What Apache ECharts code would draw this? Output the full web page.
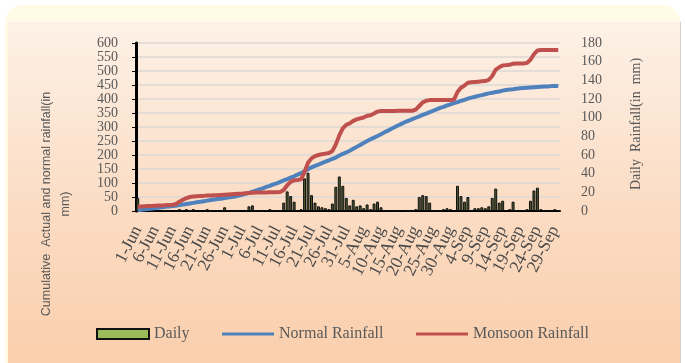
<!DOCTYPE html>
<html>
<head>
<meta charset="utf-8">
<script src="https://cdn.jsdelivr.net/npm/echarts@6/dist/echarts.min.js"></script>
<style>
  html, body { margin: 0; padding: 0; background: #fff; }
  #frame { position: absolute; left: 5px; top: 5px; width: 676px; height: 380px; border-radius: 18px; background: #fffbe7; }
  #panel { position: absolute; left: 8px; top: 22px; width: 672px; height: 341px; background: linear-gradient(#fdf1e7, #fbdcc3 55%, #facfad); border-right: 1px solid #d8d0c8; }
  #chart { position: absolute; left: 0; top: 0; width: 685px; height: 363px; }
</style>
</head>
<body>
<div id="frame"></div>
<div id="panel"></div>
<div id="chart"></div>
<script>
// 日期标签 1-Jun ... 30-Sep
const months = [['Jun', 30], ['Jul', 31], ['Aug', 31], ['Sep', 30]]
const days = []
months.forEach(([m, n]) => { for (let d = 1; d <= n; d++) days.push(d + '-' + m) })

// 逐日降雨 (mm)
const daily = [
  14, 0, 0, 1, 0, 0, 1, 0, 0, 0, 1, 0, 2, 1, 2, 1, 2, 1, 0, 1,
  2, 0, 1, 0, 1, 4, 1, 0, 0, 0, 1, 0, 5, 6, 1, 0, 0, 1, 2, 0,
  1, 0, 9, 21, 16, 10, 1, 2, 35, 41, 17, 9, 5, 4, 3, 2, 8, 26, 37, 27,
  14, 6, 12, 5, 6, 3, 7, 2, 8, 10, 4, 1, 0, 1, 0, 0, 1, 0, 0, 1,
  2, 15, 17, 16, 9, 1, 0, 0, 2, 3, 2, 1, 27, 16, 10, 15, 1, 3, 3, 4,
  3, 5, 14, 24, 9, 11, 1, 2, 10, 1, 0, 1, 2, 11, 22, 25, 2, 1, 0, 1,
  2, 1
]

// 常年累计降雨
const normal = [
  3, 4, 6, 7, 9, 10, 12, 13, 15, 16, 18, 19, 21, 23, 25, 27, 29, 31, 33, 35,
  37, 39, 41, 43, 44, 46, 48, 50, 52, 55, 58, 61, 65, 69, 73, 77, 81, 86, 90, 95,
  99, 104, 109, 114, 119, 124, 130, 135, 142, 149, 156, 161, 166, 171, 176, 181, 186, 191, 198, 204,
  209, 215, 222, 229, 236, 243, 250, 256, 262, 268, 274, 281, 287, 294, 300, 306, 312, 318, 323, 328,
  333, 338, 343, 348, 353, 358, 363, 368, 372, 377, 381, 385, 389, 393, 397, 401, 405, 408, 411, 414,
  417, 420, 422, 425, 427, 430, 432, 434, 435, 437, 438, 439, 440, 441, 442, 443, 444, 445, 445, 446,
  446, 446
]

// 季风累计降雨
const monsoon = [
  15, 16, 17, 18, 18, 19, 20, 20, 21, 21, 22, 25, 33, 40, 46, 50, 52, 53, 54, 54,
  55, 55, 56, 56, 57, 58, 59, 60, 61, 62, 62, 63, 64, 65, 66, 66, 66, 66, 67, 67,
  67, 68, 75, 92, 104, 110, 111, 113, 140, 172, 188, 196, 200, 203, 205, 207, 214, 238, 270, 295,
  308, 313, 322, 327, 331, 334, 340, 342, 348, 355, 357, 357, 357, 357, 357, 358, 358, 358, 358, 358,
  362, 375, 388, 394, 396, 396, 396, 396, 396, 396, 396, 398, 425, 440, 448, 458, 460, 461, 462, 463,
  464, 468, 482, 505, 513, 520, 521, 522, 526, 527, 527, 527, 529, 540, 560, 573, 575, 575, 575, 575,
  575, 575
]

const serif = '"Liberation Serif", "DejaVu Serif", serif'
const sans = '"Liberation Sans", Arial, sans-serif'
const grey = '#595959'

const chart = echarts.init(document.getElementById('chart'))
const option = {
  backgroundColor: 'transparent',
  animation: false,
  grid: { left: 136, right: 125, top: 43, bottom: 152 },
  legend: {
    left: 91,
    top: 321,
    itemWidth: 52,
    itemHeight: 10,
    itemGap: 31,
    textStyle: { fontFamily: serif, fontSize: 16, color: grey },
    data: [
      { name: 'Daily', icon: 'rect', itemStyle: { color: '#9bbb59', borderColor: '#111', borderWidth: 2 } },
      { name: 'Normal Rainfall', itemStyle: { opacity: 0 }, lineStyle: { width: 3 } },
      { name: 'Monsoon Rainfall', itemStyle: { opacity: 0 }, lineStyle: { width: 3 } }
    ]
  },
  xAxis: {
    type: 'category',
    data: days,
    boundaryGap: true,
    axisLine: { lineStyle: { color: '#000', width: 2 } },
    axisTick: { interval: 0, length: 4, lineStyle: { color: '#000' } },
    axisLabel: {
      interval: 0,
      formatter: (v, i) => (i % 5 === 0 ? v : ''),
      rotate: 63,
      margin: 16,
      fontFamily: serif,
      fontSize: 17.5,
      color: '#4a4a4a'
    }
  },
  yAxis: [
    {
      type: 'value',
      min: 0,
      max: 600,
      interval: 50,
      axisLine: { show: true, lineStyle: { color: '#000', width: 3 } },
      axisTick: { show: true, length: 4, lineStyle: { color: '#000' } },
      axisLabel: { margin: 18, fontFamily: serif, fontSize: 14, color: grey, lineHeight: 14 },
      splitLine: { lineStyle: { color: '#dcd8d4', width: 1.5 } }
    },
    {
      type: 'value',
      min: 0,
      max: 180,
      interval: 20,
      axisLine: { show: false },
      axisTick: { show: false },
      axisLabel: { margin: 21, fontFamily: serif, fontSize: 14, color: grey },
      splitLine: { show: false }
    }
  ],
  graphic: [
    {
      type: 'text',
      x: 56,
      y: 204,
      rotation: Math.PI / 2,
      style: {
        text: 'Cumulative  Actual and normal rainfall(in\nmm)',
        font: '12.5px ' + sans,
        fill: grey,
        align: 'center',
        verticalAlign: 'middle',
        lineHeight: 19
      }
    },
    {
      type: 'text',
      x: 636,
      y: 124,
      rotation: Math.PI / 2,
      style: {
        text: 'Daily  Rainfall(in  mm)',
        font: '14px ' + serif,
        fill: grey,
        align: 'center',
        verticalAlign: 'middle'
      }
    }
  ],
  series: [
    {
      name: 'Daily',
      type: 'bar',
      yAxisIndex: 1,
      data: daily,
      barCategoryGap: '15%',
      itemStyle: { color: '#4d5a2c', borderColor: '#111', borderWidth: 1 }
    },
    {
      name: 'Normal Rainfall',
      type: 'line',
      data: normal,
      symbol: 'none',
      lineStyle: { color: '#4f81bd', width: 4 },
      itemStyle: { color: '#4f81bd' }
    },
    {
      name: 'Monsoon Rainfall',
      type: 'line',
      data: monsoon,
      symbol: 'none',
      lineStyle: { color: '#c0504d', width: 4 },
      itemStyle: { color: '#c0504d' }
    }
  ]
}
chart.setOption(option)
</script>
</body>
</html>
